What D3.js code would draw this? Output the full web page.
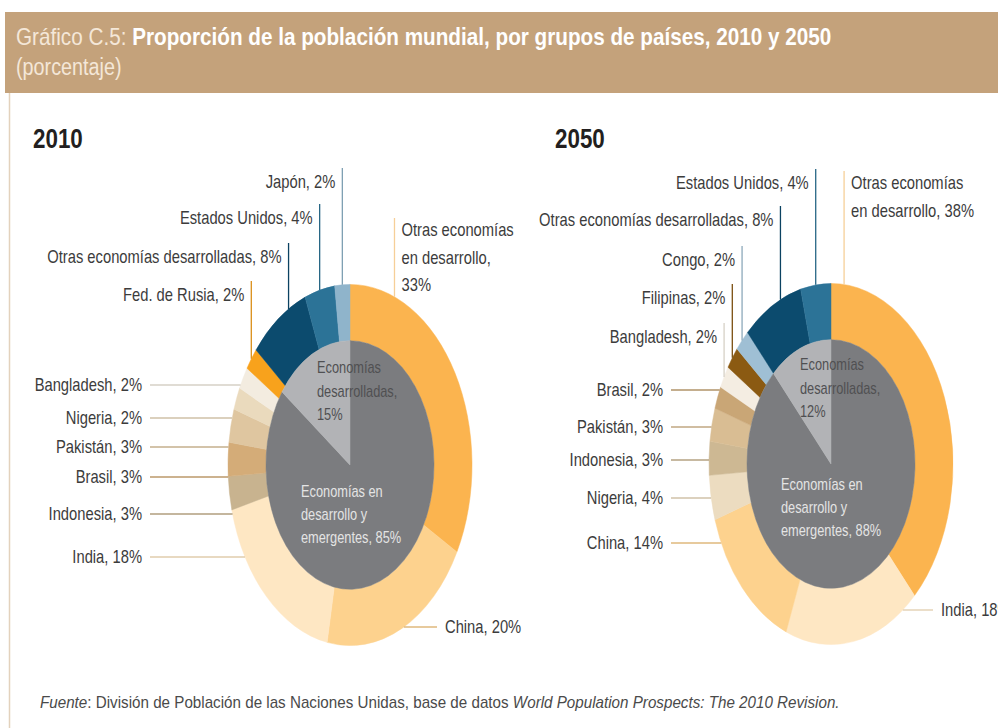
<!DOCTYPE html>
<html>
<head>
<meta charset="utf-8">
<script src="https://cdn.jsdelivr.net/npm/d3@7/dist/d3.min.js"></script>
<style>
  body { margin: 0; background: #fff; }
  text { font-family: "Liberation Sans", Arial, sans-serif; }
</style>
</head>
<body>
<script>
(function(){

  //data
  var names2010 = ["Otras economías en desarrollo", "China", "India", "Indonesia", "Brasil", "Pakistán", "Nigeria", "Bangladesh", "Fed. de Rusia", "Otras economías desarrolladas", "Estados Unidos", "Japón"];
  var values2010 = [33, 20, 18, 3, 3, 3, 2, 2, 2, 8, 4, 2];
  var groupValues2010 = [85, 15];

  var names2050 = ["Otras economías en desarrollo", "India", "China", "Nigeria", "Indonesia", "Pakistán", "Brasil", "Bangladesh", "Filipinas", "Congo", "Otras economías desarrolladas", "Estados Unidos"];
  var values2050 = [38, 18, 14, 4, 3, 3, 2, 2, 2, 2, 8, 4];
  var groupValues2050 = [88, 12];

  var groupNames = ["Economías en desarrollo y emergentes", "Economías desarrolladas"];

  //colours per slice
  var colors2010 = ["#fbb44f", "#fdd28e", "#fee7c3", "#c8b38f", "#d4ac78", "#dfc6a0", "#eadabd", "#f3ece0", "#f8a21c", "#0c4b6e", "#2c7397", "#8fb4cb"];
  var colors2050 = ["#fbb44f", "#fee7c3", "#fdd28e", "#ecdcc0", "#cdb893", "#d9bd93", "#c9a676", "#f4ede2", "#8b5a12", "#9fbfd4", "#0c4b6e", "#2c7397"];
  var groupColors = ["#7b7c7f", "#b2b3b6"];

  var width = 998, height = 728;
  var rOut = 122, rIn = 84, stretch = 1.48; //donuts are drawn taller than wide

  var svg = d3.select("body").append("svg")
    .attr("width", width)
    .attr("height", height);

  //header band
  svg.append("rect")
    .attr("x", 5).attr("y", 12)
    .attr("width", width - 5).attr("height", 81)
    .attr("fill", "#c4a27b");

  svg.append("line") //thin frame on the left
    .attr("x1", 9.5).attr("x2", 9.5)
    .attr("y1", 93).attr("y2", height)
    .attr("stroke", "#e3d2bd").attr("stroke-width", 1.5);

  //text helper: narrow type is faked with a horizontal scale
  function addText(parent, x, y, sx){
    return parent.append("text")
      .attr("transform", "translate(" + x + "," + y + ") scale(" + sx + ",1)");
  }

  var title = addText(svg, 16, 45, 0.9).attr("font-size", 23);
  title.append("tspan").attr("fill", "#f4e7d8").text("Gráfico C.5: ");
  title.append("tspan").attr("fill", "#fff").attr("font-weight", "bold")
    .text("Proporción de la población mundial, por grupos de países, 2010 y 2050");
  addText(svg, 16, 75, 0.86).attr("font-size", 23).attr("fill", "#f4e7d8").text("(porcentaje)");

  //footer
  var foot = addText(svg, 40, 708, 0.95).attr("font-size", 16).attr("fill", "#4a4a4a");
  foot.append("tspan").attr("font-style", "italic").text("Fuente");
  foot.append("tspan").text(": División de Población de las Naciones Unidas, base de datos ");
  foot.append("tspan").attr("font-style", "italic").text("World Population Prospects: The 2010 Revision.");

  //label layout (positions only, the words come from the data)
  var layout2010 = {
    cx: 350, cy: 465, heading: 33,
    top: [
      {i: 11, t: 0.5, y: 188},
      {i: 10, t: 0.5, y: 224},
      {i: 9, t: 0.7, y: 263},
      {i: 8, t: 0.5, y: 301}
    ],
    topRight: {i: 0, t: 0.18, y: 236, lines: ["Otras economías", "en desarrollo,", "33%"]},
    leftX: 142,
    left: [{i: 7, y: 385}, {i: 6, y: 418}, {i: 5, y: 447}, {i: 4, y: 477}, {i: 3, y: 514}, {i: 2, y: 557}],
    rightX: 445,
    right: [{i: 1, y: 627}],
    inner: {devX: 317, devY: 373, emX: 301, emY: 497}
  };

  var layout2050 = {
    cx: 831, cy: 464, heading: 555,
    top: [
      {i: 11, t: 0.5, y: 189},
      {i: 10, t: 0.65, y: 226},
      {i: 9, t: 0.5, y: 266},
      {i: 8, t: 0.5, y: 304},
      {i: 7, t: 0.5, y: 343}
    ],
    topRight: {i: 0, t: 0.045, y: 189, lines: ["Otras economías", "en desarrollo, 38%"]},
    leftX: 663,
    left: [{i: 6, y: 390}, {i: 5, y: 427}, {i: 4, y: 460}, {i: 3, y: 498}, {i: 2, y: 543}],
    rightX: 941,
    right: [{i: 1, y: 610}],
    inner: {devX: 800, devY: 370, emX: 781, emY: 490}
  };

  drawDonut("2010", names2010, values2010, colors2010, groupValues2010, layout2010);
  drawDonut("2050", names2050, values2050, colors2050, groupValues2050, layout2050);

  function drawDonut(year, names, values, colors, groupValues, L){
    var pie = d3.pie().sort(null).value(function(d){ return d; });
    var outerArcs = pie(values);
    var innerArcs = pie(groupValues);

    var ring = d3.arc().innerRadius(rIn).outerRadius(rOut);
    var core = d3.arc().innerRadius(0).outerRadius(rIn);

    addText(svg, L.heading, 148, 0.8)
      .attr("font-size", 28).attr("font-weight", "bold").attr("fill", "#231f20")
      .text(year);

    var g = svg.append("g")
      .attr("transform", "translate(" + L.cx + "," + L.cy + ") scale(1," + stretch + ")");

    g.selectAll(".slice")
      .data(outerArcs)
      .join("path")
      .attr("class", "slice")
      .attr("d", ring)
      .attr("fill", function(d, i){ return colors[i]; })
      .attr("stroke", function(d, i){ return colors[i]; })
      .attr("stroke-width", 0.4);

    g.selectAll(".group")
      .data(innerArcs)
      .join("path")
      .attr("class", "group")
      .attr("d", core)
      .attr("fill", function(d, i){ return groupColors[i]; })
      .attr("stroke", function(d, i){ return groupColors[i]; })
      .attr("stroke-width", 0.4);

    //point on the outer edge at a given angle
    function edgePoint(a){
      return [L.cx + rOut * Math.sin(a), L.cy - rOut * stretch * Math.cos(a)];
    }
    function edgeX(y, side){
      var f = (y - L.cy) / (rOut * stretch);
      return L.cx + side * rOut * Math.sqrt(Math.max(0, 1 - f * f));
    }
    function lineColor(i){
      return d3.color(colors[i]).darker(0.35).formatHex();
    }
    function label(i){
      return names[i] + ", " + values[i] + "%";
    }

    var labels = svg.append("g").attr("class", "labels");

    //vertical leaders above the donut
    L.top.forEach(function(s){
      var d = outerArcs[s.i];
      var p = edgePoint(d.startAngle + s.t * (d.endAngle - d.startAngle));
      labels.append("line")
        .attr("x1", p[0]).attr("x2", p[0])
        .attr("y1", s.y - 20).attr("y2", p[1])
        .attr("stroke", lineColor(s.i)).attr("stroke-width", 1.3);
      addText(labels, p[0] - 7, s.y, 0.82)
        .attr("font-size", 18).attr("fill", "#3c3c3c")
        .attr("text-anchor", "end")
        .text(label(s.i));
    });

    var tr = L.topRight, d0 = outerArcs[tr.i];
    var p0 = edgePoint(d0.startAngle + tr.t * (d0.endAngle - d0.startAngle));
    labels.append("line")
      .attr("x1", p0[0]).attr("x2", p0[0])
      .attr("y1", tr.y - 18).attr("y2", p0[1])
      .attr("stroke", "#f6cf98").attr("stroke-width", 1.3);
    tr.lines.forEach(function(txt, k){
      addText(labels, p0[0] + 7, tr.y + k * 27.5, 0.82)
        .attr("font-size", 18).attr("fill", "#3c3c3c")
        .text(txt);
    });

    //horizontal leaders on the left and right
    L.left.forEach(function(s){
      labels.append("line")
        .attr("x1", L.leftX + 8).attr("x2", edgeX(s.y, -1))
        .attr("y1", s.y).attr("y2", s.y)
        .attr("stroke", lineColor(s.i)).attr("stroke-width", 1.3);
      addText(labels, L.leftX, s.y + 6, 0.82)
        .attr("font-size", 18).attr("fill", "#3c3c3c")
        .attr("text-anchor", "end")
        .text(label(s.i));
    });
    L.right.forEach(function(s){
      labels.append("line")
        .attr("x1", edgeX(s.y, 1)).attr("x2", L.rightX - 8)
        .attr("y1", s.y).attr("y2", s.y)
        .attr("stroke", lineColor(s.i)).attr("stroke-width", 1.3);
      addText(labels, L.rightX, s.y + 6, 0.82)
        .attr("font-size", 18).attr("fill", "#3c3c3c")
        .text(label(s.i));
    });

    //labels inside the core
    var dev = ["Economías", "desarrolladas,", groupValues[1] + "%"];
    dev.forEach(function(txt, k){
      addText(labels, L.inner.devX, L.inner.devY + k * 23.5, 0.8)
        .attr("font-size", 16).attr("fill", "#505052").text(txt);
    });
    var em = ["Economías en", "desarrollo y", "emergentes, " + groupValues[0] + "%"];
    em.forEach(function(txt, k){
      addText(labels, L.inner.emX, L.inner.emY + k * 23, 0.8)
        .attr("font-size", 16).attr("fill", "#e4e4e4").text(txt);
    });
  }
})();
</script>
</body>
</html>
